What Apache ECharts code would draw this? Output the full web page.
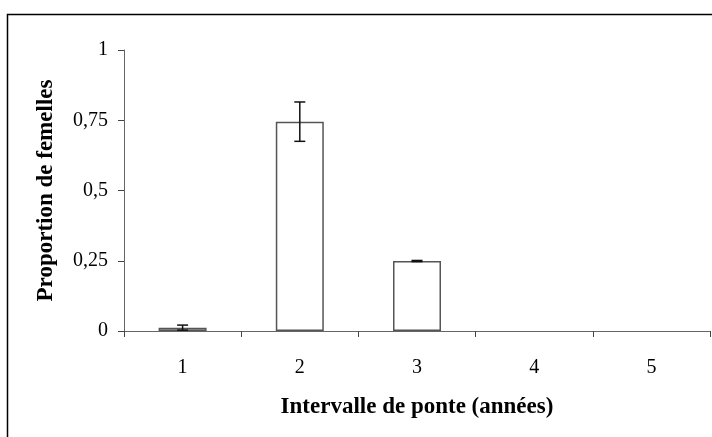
<!DOCTYPE html>
<html><head><meta charset="utf-8">
<script src="https://cdn.jsdelivr.net/npm/echarts@6/dist/echarts.min.js"></script>
<style>html,body{margin:0;padding:0;background:#fff}#c{width:712px;height:437px}</style>
</head><body><div id="c"></div>
<script>
const categories = ['1', '2', '3', '4', '5'];
const proportions = [0.012, 0.745, 0.249, 0, 0];
const errors = [0.009, 0.07, 0.002, 0, 0];
const yTicks = ['0', '0,25', '0,5', '0,75', '1'];

const chart = echarts.init(document.getElementById('c'), null, {renderer: 'canvas'});
const font = '"Liberation Serif", "Times New Roman", serif';
const barData = proportions.map(v => v === 0 ? {value: v, itemStyle: {borderWidth: 0}} : v);
const errData = proportions.map((v, i) => [i, v - errors[i], v + errors[i]]);
chart.setOption({
  animation: false,
  backgroundColor: '#fff',
  graphic: [{type: 'rect', shape: {x: 7.5, y: 14.5, width: 720, height: 440},
    style: {fill: 'none', stroke: '#000', lineWidth: 1.5}, z: 100}],
  grid: {left: 124, right: 2, top: 50, bottom: 106},
  xAxis: {
    type: 'category', data: categories,
    name: 'Intervalle de ponte (années)', nameLocation: 'middle', nameGap: 65,
    nameTextStyle: {fontFamily: font, fontWeight: 'bold', fontSize: 23, color: '#000'},
    axisLine: {lineStyle: {color: '#666', width: 1}},
    axisTick: {show: true, length: 6, alignWithLabel: false, lineStyle: {color: '#444'}},
    axisLabel: {fontFamily: font, fontSize: 20, color: '#000', margin: 27}
  },
  yAxis: {
    type: 'value', min: 0, max: 1, interval: 0.25,
    name: 'Proportion de femelles', nameLocation: 'middle', nameGap: 66,
    nameTextStyle: {fontFamily: font, fontWeight: 'bold', fontSize: 23, color: '#000'},
    axisLine: {show: true, lineStyle: {color: '#666', width: 1}},
    axisTick: {show: true, length: 6, lineStyle: {color: '#444'}},
    splitLine: {show: false},
    axisLabel: {fontFamily: font, fontSize: 20, color: '#000', margin: 16,
      formatter: (v) => yTicks[Math.round(v / 0.25)]}
  },
  series: [{
    type: 'bar', data: barData, barWidth: 48,
    itemStyle: {color: '#fff', borderColor: '#555', borderWidth: 1.5}
  }, {
    type: 'custom', data: errData, z: 10,
    renderItem: function (params, api) {
      if (api.value(2) - api.value(1) <= 0) return null;
      const x = api.value(0);
      const lo = api.coord([x, api.value(1)]);
      const hi = api.coord([x, api.value(2)]);
      const w = 5.5;
      const st = {stroke: '#111', lineWidth: 1.5};
      return {type: 'group', children: [
        {type: 'line', shape: {x1: lo[0], y1: lo[1], x2: hi[0], y2: hi[1]}, style: st},
        {type: 'line', shape: {x1: hi[0] - w, y1: hi[1], x2: hi[0] + w, y2: hi[1]}, style: st},
        {type: 'line', shape: {x1: lo[0] - w, y1: lo[1], x2: lo[0] + w, y2: lo[1]}, style: st}
      ]};
    }
  }]
});
</script></body></html>
